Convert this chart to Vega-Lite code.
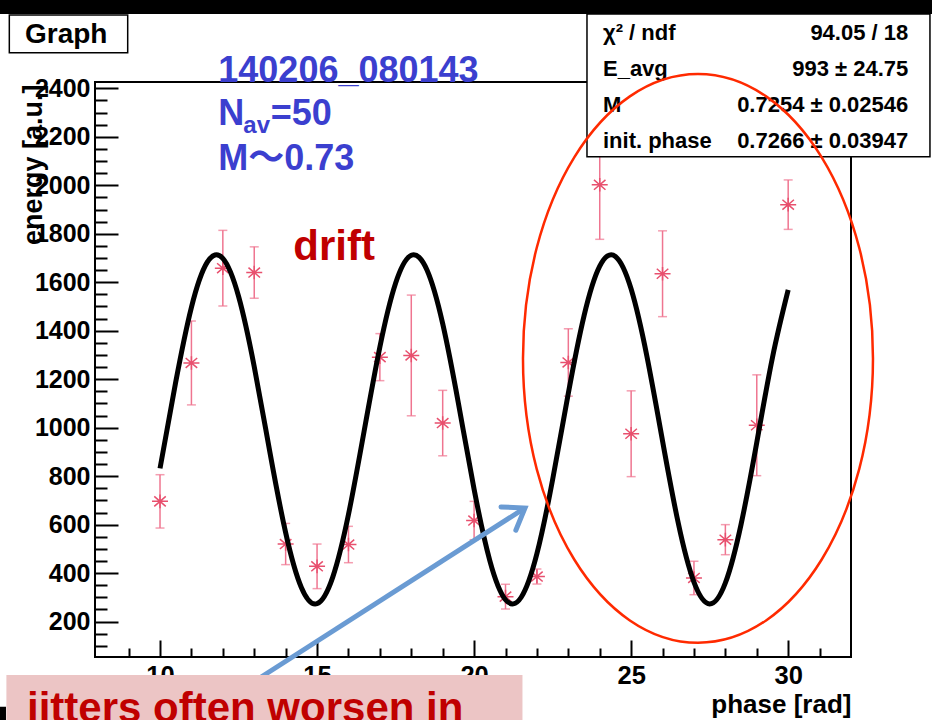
{
  "$schema": "https://vega.github.io/schema/vega-lite/v6.json",
  "width": 756,
  "height": 575,
  "autosize": "none",
  "padding": {"left": 95, "top": 82, "right": 81, "bottom": 63},
  "background": "white",
  "config": {"view": {"stroke": "black", "strokeWidth": 2}, "font": "Liberation Sans"},
  "datasets": {
    "points": [
      {"phase": 10, "energy": 696, "err": 110},
      {"phase": 11, "energy": 1267, "err": 173},
      {"phase": 12, "energy": 1658, "err": 156},
      {"phase": 13, "energy": 1640, "err": 106},
      {"phase": 14, "energy": 520, "err": 85},
      {"phase": 15, "energy": 428, "err": 92},
      {"phase": 16, "energy": 518, "err": 75},
      {"phase": 17, "energy": 1291, "err": 97},
      {"phase": 18, "energy": 1298, "err": 249},
      {"phase": 19, "energy": 1019, "err": 135},
      {"phase": 20, "energy": 617, "err": 79},
      {"phase": 21, "energy": 303, "err": 51},
      {"phase": 22, "energy": 386, "err": 31},
      {"phase": 23, "energy": 1269, "err": 139},
      {"phase": 24, "energy": 2002, "err": 225},
      {"phase": 25, "energy": 975, "err": 177},
      {"phase": 26, "energy": 1635, "err": 177},
      {"phase": 27, "energy": 380, "err": 69},
      {"phase": 28, "energy": 538, "err": 62},
      {"phase": 29, "energy": 1010, "err": 208},
      {"phase": 30, "energy": 1920, "err": 102}
    ],
    "fit": [
      {"phase": 10, "energy": 831.9}, {"phase": 10.5, "energy": 1188.2}, {"phase": 11, "energy": 1496.7},
      {"phase": 11.5, "energy": 1681.9}, {"phase": 12, "energy": 1698.4}, {"phase": 12.5, "energy": 1542.2},
      {"phase": 13, "energy": 1251.6}, {"phase": 13.5, "energy": 897.6}, {"phase": 14, "energy": 567.0},
      {"phase": 14.5, "energy": 340.7}, {"phase": 15, "energy": 274.1}, {"phase": 15.5, "energy": 383.5},
      {"phase": 16, "energy": 641.6}, {"phase": 16.5, "energy": 986.7}, {"phase": 17, "energy": 1332.8},
      {"phase": 17.5, "energy": 1595.7}, {"phase": 18, "energy": 1711.0}, {"phase": 18.5, "energy": 1650.6},
      {"phase": 19, "energy": 1429.1}, {"phase": 19.5, "energy": 1100.9}, {"phase": 20, "energy": 746.2},
      {"phase": 20.5, "energy": 451.8}, {"phase": 21, "energy": 290.2}, {"phase": 21.5, "energy": 300.5},
      {"phase": 22, "energy": 480.3}, {"phase": 22.5, "energy": 785.7}, {"phase": 23, "energy": 1141.8},
      {"phase": 23.5, "energy": 1461.5}, {"phase": 24, "energy": 1666.4}, {"phase": 24.5, "energy": 1706.5},
      {"phase": 25, "energy": 1571.9}, {"phase": 25.5, "energy": 1295.6}, {"phase": 26, "energy": 945.2},
      {"phase": 26.5, "energy": 606.4}, {"phase": 27, "energy": 362.4}, {"phase": 27.5, "energy": 272.7},
      {"phase": 28, "energy": 359.4}, {"phase": 28.5, "energy": 601.2}, {"phase": 29, "energy": 938.9},
      {"phase": 29.5, "energy": 1289.9}, {"phase": 30, "energy": 1568.2}
    ]
  },
  "layer": [
    {
      "data": {"name": "points"},
      "mark": {"type": "errorbar", "color": "#ef7590", "thickness": 1.5, "ticks": {"size": 9, "thickness": 1.5, "color": "#ef7590"}},
      "encoding": {
        "x": {"field": "phase", "type": "quantitative", "title": "phase [rad]", "scale": {"domain": [7.93, 32.0], "nice": false, "zero": false}},
        "y": {"field": "energy", "type": "quantitative", "title": "energy [a.u.]", "scale": {"domain": [54, 2426], "nice": false, "zero": false}},
        "yError": {"field": "err"}
      }
    },
    {
      "data": {"name": "points"},
      "mark": {"type": "point", "shape": "M -1 0 L 1 0 M 0 -0.85 L 0 0.85 M -0.72 -0.62 L 0.72 0.62 M -0.72 0.62 L 0.72 -0.62", "size": 256, "filled": false, "opacity": 1, "color": "#e8506e", "strokeWidth": 1.5},
      "encoding": {
        "x": {"field": "phase", "type": "quantitative", "title": "phase [rad]",
          "scale": {"domain": [7.93, 32.0], "nice": false, "zero": false},
          "axis": {
            "values": [9, 10, 11, 12, 13, 14, 15, 16, 17, 18, 19, 20, 21, 22, 23, 24, 25, 26, 27, 28, 29, 30, 31],
            "tickCount": 500,
            "format": "d",
            "tickSize": {"condition": {"test": "datum.value % 5 === 0", "value": -17}, "value": -9},
            "labelExpr": "datum.value % 5 === 0 ? datum.label : ''",
            "labelPadding": 23,
            "tickColor": "black", "tickWidth": 2, "domain": false, "grid": false,
            "labelFont": "Liberation Sans", "labelFontSize": 25.5, "labelFontWeight": "bold", "labelColor": "black",
            "labelOverlap": false, "labelFlush": false, "labelBound": false,
            "title": "phase [rad]", "titleFont": "Liberation Sans", "titleFontSize": 26, "titleFontWeight": "bold", "titleColor": "black",
            "titleAnchor": "end", "titleAlign": "right", "titleBaseline": "alphabetic", "titleX": 756, "titleY": 55
          }
        },
        "y": {"field": "energy", "type": "quantitative", "title": "energy [a.u.]",
          "scale": {"domain": [54, 2426], "nice": false, "zero": false},
          "axis": {
            "values": [100, 150, 200, 250, 300, 350, 400, 450, 500, 550, 600, 650, 700, 750, 800, 850, 900, 950, 1000, 1050, 1100, 1150, 1200, 1250, 1300, 1350, 1400, 1450, 1500, 1550, 1600, 1650, 1700, 1750, 1800, 1850, 1900, 1950, 2000, 2050, 2100, 2150, 2200, 2250, 2300, 2350, 2400],
            "tickCount": 500,
            "tickSize": {"condition": {"test": "datum.value % 200 === 0", "value": -23}, "value": -12},
            "labelExpr": "datum.value % 200 === 0 ? datum.label : ''",
            "format": "d",
            "labelPadding": 28,
            "tickColor": "black", "tickWidth": 2, "domain": false, "grid": false,
            "labelFont": "Liberation Sans", "labelFontSize": 25, "labelFontWeight": "bold", "labelColor": "black",
            "labelOverlap": false, "labelFlush": false, "labelBound": false,
            "title": "energy [a.u.]", "titleFont": "Liberation Sans", "titleFontSize": 27, "titleFontWeight": "bold", "titleColor": "black",
            "titleAngle": 270, "titleAnchor": "end", "titleAlign": "right", "titleBaseline": "alphabetic", "titleX": -54, "titleY": 2
          }
        }
      }
    },
    {
      "data": {"name": "fit"},
      "mark": {"type": "line", "color": "black", "strokeWidth": 5, "interpolate": "natural"},
      "encoding": {
        "x": {"field": "phase", "type": "quantitative", "title": "phase [rad]"},
        "y": {"field": "energy", "type": "quantitative", "title": "energy [a.u.]"}
      }
    },
    {
      "data": {"values": [{}]},
      "mark": {"type": "rect", "fill": "white", "stroke": "black", "strokeWidth": 1.5},
      "encoding": {
        "x": {"datum": 23.594, "type": "quantitative"}, "x2": {"datum": 34.514},
        "y": {"datum": 2117.9, "type": "quantitative"}, "y2": {"datum": 2706.5}
      }
    },
    {
      "data": {"values": [{}]},
      "mark": {"type": "text", "align": "left", "baseline": "alphabetic", "font": "Liberation Sans", "fontSize": 22, "fontWeight": "bold", "color": "black", "lineHeight": 36},
      "encoding": {
        "x": {"datum": 24.103, "type": "quantitative"},
        "y": {"datum": 2597.2, "type": "quantitative"},
        "text": {"value": ["χ² / ndf", "E_avg", "M", "init. phase"]}
      }
    },
    {
      "data": {"values": [{}]},
      "mark": {"type": "text", "align": "right", "baseline": "alphabetic", "font": "Liberation Sans", "fontSize": 22, "fontWeight": "bold", "color": "black", "lineHeight": 36},
      "encoding": {
        "x": {"datum": 33.823, "type": "quantitative"},
        "y": {"datum": 2597.2, "type": "quantitative"},
        "text": {"value": ["94.05 / 18", "993 ± 24.75", "0.7254 ± 0.02546", "0.7266 ± 0.03947"]}
      }
    },
    {
      "data": {"values": [{}]},
      "mark": {"type": "rect", "fill": "white", "stroke": "black", "strokeWidth": 1.5},
      "encoding": {
        "x": {"datum": 5.202, "type": "quantitative"}, "x2": {"datum": 8.971},
        "y": {"datum": 2546.9, "type": "quantitative"}, "y2": {"datum": 2702.4}
      }
    },
    {
      "data": {"values": [{}]},
      "mark": {"type": "text", "align": "left", "baseline": "alphabetic", "font": "Liberation Sans", "fontSize": 28, "fontWeight": "bold", "color": "black"},
      "encoding": {
        "x": {"datum": 5.701, "type": "quantitative"},
        "y": {"datum": 2585.6, "type": "quantitative"},
        "text": {"value": "Graph"}
      }
    },
    {
      "data": {"values": [{}]},
      "mark": {"type": "text", "align": "left", "baseline": "alphabetic", "font": "Liberation Sans", "fontSize": 36, "fontWeight": "bold", "color": "#3b3fcf"},
      "encoding": {
        "x": {"datum": 11.856, "type": "quantitative"},
        "y": {"datum": 2427.3, "type": "quantitative"},
        "text": {"value": "140206_080143"}
      }
    },
    {
      "data": {"values": [{}]},
      "mark": {"type": "text", "align": "left", "baseline": "alphabetic", "font": "Liberation Sans", "fontSize": 36, "fontWeight": "bold", "color": "#3b3fcf"},
      "encoding": {
        "x": {"datum": 11.856, "type": "quantitative"},
        "y": {"datum": 2248.6, "type": "quantitative"},
        "text": {"value": "N"}
      }
    },
    {
      "data": {"values": [{}]},
      "mark": {"type": "text", "align": "left", "baseline": "alphabetic", "font": "Liberation Sans", "fontSize": 24, "fontWeight": "bold", "color": "#3b3fcf"},
      "encoding": {
        "x": {"datum": 12.651, "type": "quantitative"},
        "y": {"datum": 2215.6, "type": "quantitative"},
        "text": {"value": "av"}
      }
    },
    {
      "data": {"values": [{}]},
      "mark": {"type": "text", "align": "left", "baseline": "alphabetic", "font": "Liberation Sans", "fontSize": 36, "fontWeight": "bold", "color": "#3b3fcf"},
      "encoding": {
        "x": {"datum": 13.524, "type": "quantitative"},
        "y": {"datum": 2248.6, "type": "quantitative"},
        "text": {"value": "=50"}
      }
    },
    {
      "data": {"values": [{}]},
      "mark": {"type": "text", "align": "left", "baseline": "alphabetic", "font": "Liberation Sans, Noto Sans CJK JP", "fontSize": 36, "fontWeight": "bold", "color": "#3b3fcf"},
      "encoding": {
        "x": {"datum": 11.856, "type": "quantitative"},
        "y": {"datum": 2063, "type": "quantitative"},
        "text": {"value": "M〜0.73"}
      }
    },
    {
      "data": {"values": [{}]},
      "mark": {"type": "text", "align": "left", "baseline": "alphabetic", "font": "Liberation Sans", "fontSize": 42, "fontWeight": "bold", "color": "#c00000"},
      "encoding": {
        "x": {"datum": 14.243, "type": "quantitative"},
        "y": {"datum": 1691.7, "type": "quantitative"},
        "text": {"value": "drift"}
      }
    },
    {
      "data": {"values": [{}]},
      "mark": {"type": "point", "shape": "M -0.6153 0 A 0.6153 1 0 1 1 0.6153 0 A 0.6153 1 0 1 1 -0.6153 0 Z", "size": 323533, "filled": false, "opacity": 1, "color": "#ff2a00", "strokeWidth": 2.5},
      "encoding": {
        "x": {"datum": 27.128, "type": "quantitative"},
        "y": {"datum": 1285.8, "type": "quantitative"}
      }
    },
    {
      "data": {"values": [{}]},
      "mark": {"type": "rule", "color": "#6a9bd3", "strokeWidth": 5},
      "encoding": {
        "x": {"datum": 13.024, "type": "quantitative"}, "x2": {"datum": 21.62},
        "y": {"datum": -45, "type": "quantitative"}, "y2": {"datum": 668.7}
      }
    },
    {
      "data": {"values": [{}]},
      "mark": {"type": "point", "shape": "M -0.574 0.819 L 0 0 L 0.574 0.819", "size": 2304, "angle": 57.4, "filled": false, "opacity": 1, "color": "#6a9bd3", "strokeWidth": 5, "strokeCap": "round", "strokeJoin": "miter"},
      "encoding": {
        "x": {"datum": 21.62, "type": "quantitative"},
        "y": {"datum": 668.7, "type": "quantitative"}
      }
    },
    {
      "data": {"values": [{}]},
      "mark": {"type": "rect", "fill": "#ecc5c5"},
      "encoding": {
        "x": {"datum": 5.109, "type": "quantitative"}, "x2": {"datum": 21.54},
        "y": {"datum": -300, "type": "quantitative"}, "y2": {"datum": -20.3}
      }
    },
    {
      "data": {"values": [{}]},
      "mark": {"type": "text", "align": "left", "baseline": "alphabetic", "font": "Liberation Sans", "fontSize": 42, "fontWeight": "bold", "color": "#c00000"},
      "encoding": {
        "x": {"datum": 5.765, "type": "quantitative"},
        "y": {"datum": -214.1, "type": "quantitative"},
        "text": {"value": "jitters often worsen in"}
      }
    },
    {
      "data": {"values": [{}]},
      "mark": {"type": "rect", "fill": "black"},
      "encoding": {
        "x": {"datum": 4.5, "type": "quantitative"}, "x2": {"datum": 35.5},
        "y": {"datum": 2706.5, "type": "quantitative"}, "y2": {"datum": 2900}
      }
    },
    {
      "data": {"values": [{}]},
      "mark": {"type": "rect", "fill": "black"},
      "encoding": {
        "x": {"datum": 4.5, "type": "quantitative"}, "x2": {"datum": 5.096},
        "y": {"datum": -300, "type": "quantitative"}, "y2": {"datum": -151}
      }
    }
  ]
}
